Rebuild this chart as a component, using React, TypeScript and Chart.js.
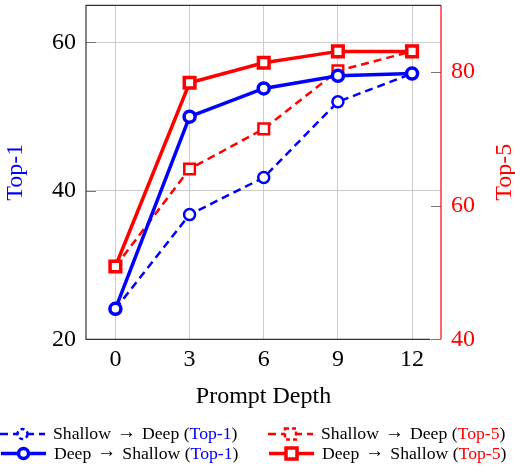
import React, { useEffect, useRef } from 'react';
import { Chart, registerables } from 'chart.js';

Chart.register(...registerables);

const depths = [0, 3, 6, 9, 12];
const shallowToDeepTop1 = [24.1, 36.8, 41.8, 52.0, 55.8];
const deepToShallowTop1 = [24.1, 50.0, 53.8, 55.5, 55.8];
const shallowToDeepTop5 = [50.9, 65.5, 71.5, 80.2, 83.1];
const deepToShallowTop5 = [50.9, 78.4, 81.4, 83.1, 83.1];
const xTicks = [0, 3, 6, 9, 12];
const top1Ticks = [20, 40, 60];
const top5Ticks = [40, 60, 80];

const BLUE = '#0000ff';
const RED = '#ff0000';
const SERIF = '"Liberation Serif", "DejaVu Serif", serif';

const legendItems = [
  { a: 'Shallow', b: 'Deep', tag: 'Top-1', tagColor: BLUE, color: BLUE, dashed: true, shape: 'circle', col: 0, row: 0 },
  { a: 'Deep', b: 'Shallow', tag: 'Top-1', tagColor: BLUE, color: BLUE, dashed: false, shape: 'circle', col: 0, row: 1 },
  { a: 'Shallow', b: 'Deep', tag: 'Top-5', tagColor: RED, color: RED, dashed: true, shape: 'rect', col: 1, row: 0 },
  { a: 'Deep', b: 'Shallow', tag: 'Top-5', tagColor: RED, color: RED, dashed: false, shape: 'rect', col: 1, row: 1 },
];

function drawMarker(ctx: CanvasRenderingContext2D, shape: string, x: number, y: number, dashed: boolean, color: string) {
  ctx.save();
  ctx.strokeStyle = color;
  ctx.fillStyle = '#fff';
  ctx.lineWidth = dashed ? 2.5 : 3.5;
  ctx.setLineDash(dashed ? [4, 3] : []);
  ctx.beginPath();
  if (shape === 'circle') {
    ctx.arc(x, y, 5, 0, Math.PI * 2);
  } else {
    ctx.rect(x - 5.5, y - 5.5, 11, 11);
  }
  ctx.fill();
  ctx.stroke();
  ctx.restore();
}

const framePlugin = {
  id: 'framePlugin',
  afterDraw(chart: any) {
    const ctx: CanvasRenderingContext2D = chart.ctx;
    const { left, right, top, bottom } = chart.chartArea;
    const y1 = chart.scales.y1;
    const y = chart.scales.y;
    ctx.save();
    ctx.strokeStyle = '#777';
    ctx.lineWidth = 1;
    top5Ticks.forEach((v) => {
      const py = Math.round(y1.getPixelForValue(v)) + 0.5;
      ctx.beginPath();
      ctx.moveTo(right - 10, py);
      ctx.lineTo(right, py);
      ctx.stroke();
    });
    top1Ticks.forEach((v) => {
      const py = Math.round(y.getPixelForValue(v)) + 0.5;
      ctx.beginPath();
      ctx.moveTo(left, py);
      ctx.lineTo(left + 10, py);
      ctx.stroke();
    });
    ctx.strokeStyle = '#333';
    ctx.lineWidth = 1.2;
    ctx.beginPath();
    ctx.moveTo(right, top);
    ctx.lineTo(left, top);
    ctx.lineTo(left, bottom);
    ctx.lineTo(right - 11, bottom);
    ctx.stroke();
    ctx.strokeStyle = RED;
    ctx.beginPath();
    ctx.moveTo(right, top);
    ctx.lineTo(right, bottom);
    ctx.stroke();

    ctx.font = `24px ${SERIF}`;
    ctx.textAlign = 'center';
    ctx.textBaseline = 'middle';
    const cy = (top + bottom) / 2;
    ctx.save();
    ctx.translate(16, cy);
    ctx.rotate(-Math.PI / 2);
    ctx.fillStyle = BLUE;
    ctx.fillText('Top-1', 0, 0);
    ctx.restore();
    ctx.save();
    ctx.translate(505, cy);
    ctx.rotate(-Math.PI / 2);
    ctx.fillStyle = RED;
    ctx.fillText('Top-5', 0, 0);
    ctx.restore();

    const textFont = `17.7px ${SERIF}`;
    ctx.textAlign = 'left';
    ctx.textBaseline = 'middle';
    const rowsY = [434, 453.5];
    const colsX = [0, 268];
    legendItems.forEach((it) => {
      const x0 = colsX[it.col] + (it.dashed ? 0 : 1);
      const yy = rowsY[it.row];
      ctx.save();
      ctx.strokeStyle = it.color;
      ctx.lineWidth = it.dashed ? 2.5 : 3.5;
      ctx.setLineDash(it.dashed ? [8, 5] : []);
      ctx.beginPath();
      ctx.moveTo(x0, yy);
      ctx.lineTo(x0 + 45, yy);
      ctx.stroke();
      ctx.restore();
      drawMarker(ctx, it.shape, x0 + 22.5, yy, it.dashed, it.color);
      let tx = x0 + 53;
      ctx.fillStyle = '#000';
      ctx.font = textFont;
      ctx.fillText(it.a, tx, yy + 0.5);
      tx += ctx.measureText(it.a).width + 6;
      const aw = ctx.measureText('\u2192').width;
      ctx.save();
      ctx.translate(tx, yy - 1.5);
      ctx.scale(19 / aw, 1.15);
      ctx.fillText('\u2192', 0, 0);
      ctx.restore();
      tx += 19 + 6;
      const rest = it.b + ' (';
      ctx.fillText(rest, tx, yy + 0.5);
      tx += ctx.measureText(rest).width;
      ctx.fillStyle = it.tagColor;
      ctx.fillText(it.tag, tx, yy + 0.5);
      tx += ctx.measureText(it.tag).width;
      ctx.fillStyle = '#000';
      ctx.fillText(')', tx, yy + 0.5);
    });
    ctx.restore();
  },
};

export default function App() {
  const ref = useRef<HTMLCanvasElement>(null);
  useEffect(() => {
    if (!ref.current) return;
    const toXY = (arr: number[]) => arr.map((v, i) => ({ x: depths[i], y: v }));
    const chart = new Chart(ref.current, {
      type: 'line',
      data: {
        datasets: [
          {
            label: 'Shallow → Deep (Top-1)',
            data: toXY(shallowToDeepTop1),
            yAxisID: 'y',
            borderColor: BLUE,
            borderWidth: 2.5,
            borderDash: [8, 5],
            pointStyle: 'circle',
            pointRadius: 5.5,
            pointBorderWidth: 2.5,
            pointBackgroundColor: '#fff',
            pointBorderColor: BLUE,
            order: 4,
          },
          {
            label: 'Shallow → Deep (Top-5)',
            data: toXY(shallowToDeepTop5),
            yAxisID: 'y1',
            borderColor: RED,
            borderWidth: 2.5,
            borderDash: [8, 5],
            pointStyle: 'rect',
            pointRadius: 7.5,
            pointBorderWidth: 2.5,
            pointBackgroundColor: '#fff',
            pointBorderColor: RED,
            order: 3,
          },
          {
            label: 'Deep → Shallow (Top-1)',
            data: toXY(deepToShallowTop1),
            yAxisID: 'y',
            borderColor: BLUE,
            borderWidth: 3.5,
            pointStyle: 'circle',
            pointRadius: 5.5,
            pointBorderWidth: 3.5,
            pointBackgroundColor: '#fff',
            pointBorderColor: BLUE,
            order: 2,
          },
          {
            label: 'Deep → Shallow (Top-5)',
            data: toXY(deepToShallowTop5),
            yAxisID: 'y1',
            borderColor: RED,
            borderWidth: 3.5,
            pointStyle: 'rect',
            pointRadius: 7.5,
            pointBorderWidth: 3.5,
            pointBackgroundColor: '#fff',
            pointBorderColor: RED,
            order: 1,
          },
        ],
      },
      options: {
        responsive: false,
        animation: false,
        devicePixelRatio: 1,
        layout: { autoPadding: false, padding: { top: 5.3, left: 0, right: 0, bottom: 0 } },
        plugins: { legend: { display: false }, tooltip: { enabled: false } },
        scales: {
          x: {
            type: 'linear',
            min: -1.19,
            max: 13.17,
            afterBuildTicks: (s: any) => { s.ticks = xTicks.map((v) => ({ value: v })); },
            afterFit: (s: any) => { s.height = 126.7; s.paddingLeft = 0; s.paddingRight = 0; },
            grid: { color: '#cccccc', lineWidth: 1, drawTicks: false },
            border: { display: false },
            ticks: { color: '#000', font: { family: SERIF, size: 24 }, padding: 6, maxRotation: 0 },
            title: {
              display: true,
              text: 'Prompt Depth',
              color: '#000',
              font: { family: SERIF, size: 24 },
              padding: { top: 0, bottom: 55 },
            },
          },
          y: {
            type: 'linear',
            position: 'left',
            min: 20,
            max: 65,
            afterBuildTicks: (s: any) => { s.ticks = top1Ticks.map((v) => ({ value: v })); },
            afterFit: (s: any) => { s.width = 86; s.paddingTop = 0; s.paddingBottom = 0; },
            grid: { color: '#cccccc', lineWidth: 1, drawTicks: false },
            border: { display: false },
            ticks: { color: '#000', font: { family: SERIF, size: 24 }, padding: 10 },
          },
          y1: {
            type: 'linear',
            position: 'right',
            min: 40,
            max: 90,
            afterBuildTicks: (s: any) => { s.ticks = top5Ticks.map((v) => ({ value: v })); },
            afterFit: (s: any) => { s.width = 74; s.paddingTop = 0; s.paddingBottom = 0; },
            grid: { display: false, drawTicks: false },
            border: { display: false },
            ticks: { color: RED, font: { family: SERIF, size: 24 }, padding: 10 },
          },
        },
      },
      plugins: [framePlugin],
    });
    return () => chart.destroy();
  }, []);
  return (
    <div style={{ position: 'absolute', left: 0, top: 0, width: 515, height: 466 }}>
      <canvas ref={ref} width={515} height={466} style={{ width: 515, height: 466 }} />
    </div>
  );
}
